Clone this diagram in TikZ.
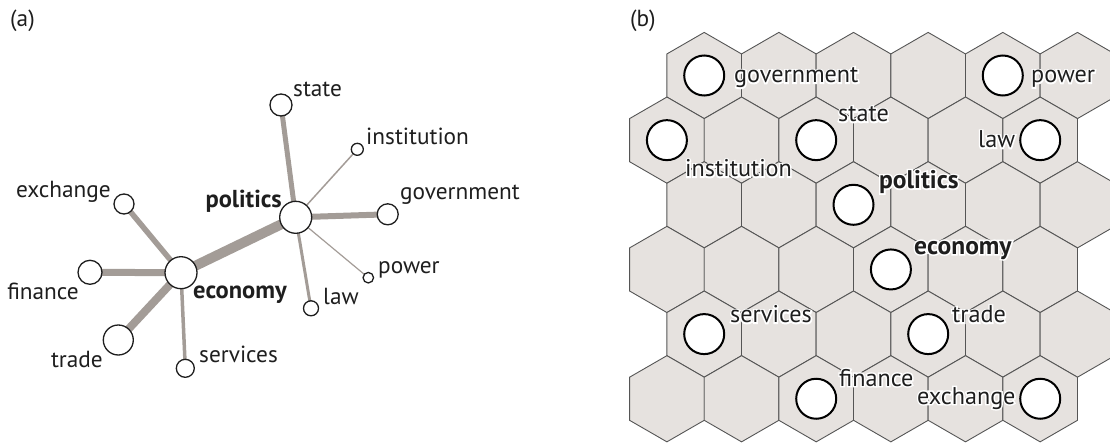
\documentclass[tikz,border=0pt]{standalone}
\usepackage{fontspec}
\setmainfont{PT Sans}
\newfontfamily\halofam{PT Sans}[FakeBold=12, BoldFeatures={FakeBold=12}]
\definecolor{edgec}{HTML}{A39C97}
\definecolor{hexfill}{HTML}{E6E2DF}
\definecolor{hexline}{HTML}{555555}
\definecolor{txt}{HTML}{1E1E1E}
\pgfdeclarelayer{bg}
\pgfsetlayers{bg,main}
\newcommand\halo[1]{\makebox[0pt][l]{\color{white}\halofam #1}#1}
\begin{document}
\begin{tikzpicture}[x=1pt,y=-1pt,
  lbl/.style={inner sep=0pt, font=\fontsize{23.3}{27}\selectfont, text=txt},
  blbl/.style={lbl, font=\fontsize{24.5}{28}\selectfont\bfseries},
  hlbl/.style={inner sep=0pt, font=\fontsize{24.2}{28}\selectfont, text=txt},
  hblbl/.style={inner sep=0pt, font=\fontsize{25.5}{29}\selectfont\bfseries, text=txt},
  vtx/.style={circle, draw=txt, fill=white, line width=1.3pt, inner sep=0pt, minimum size=#1},
  som/.style={circle, draw=black, fill=white, line width=2pt, inner sep=0pt, minimum size=40pt},
  link/.style={draw=edgec, line width=#1},
  hexcell/.style={fill=hexfill, draw=hexline, line width=0.9pt}]
\useasboundingbox (0,0) rectangle (1110,444);

% ---------- panel (a) ----------
\node[lbl, anchor=base west] (la) at (10,27) {(a)};
\node[vtx=22pt] (st) at (281,105) {};
\node[vtx=12pt] (ins) at (357.3,149.3) {};
\node[vtx=21pt] (gov) at (387.7,214.3) {};
\node[vtx=32pt] (pol) at (295.7,217.3) {};
\node[vtx=10.5pt] (pow) at (368.3,277.7) {};
\node[vtx=15pt] (law) at (311,308.3) {};
\node[vtx=32pt] (eco) at (181,272.7) {};
\node[vtx=20pt] (exc) at (124,204) {};
\node[vtx=24pt] (fin) at (90,272.3) {};
\node[vtx=30pt] (tra) at (118.3,340) {};
\node[vtx=18pt] (ser) at (185.3,368.3) {};

\begin{pgfonlayer}{bg}
\draw[link=10pt] (eco.center) -- (pol.center);
\draw[link=8pt] (eco.center) -- (tra.center);
\draw[link=7pt] (eco.center) -- (fin.center);
\draw[link=5.5pt] (eco.center) -- (exc.center);
\draw[link=3.5pt] (eco.center) -- (ser.center);
\draw[link=5pt] (pol.center) -- (st.center);
\draw[link=6pt] (pol.center) -- (gov.center);
\draw[link=3pt] (pol.center) -- (law.center);
\draw[link=1.5pt] (pol.center) -- (ins.center);
\draw[link=1.2pt] (pol.center) -- (pow.center);
\end{pgfonlayer}

\node[lbl, anchor=base west] (tst) at (293,96) {state};
\node[lbl, anchor=base west] (tins) at (366,144) {institution};
\node[lbl, anchor=base west] (tgov) at (400,199.5) {government};
\node[blbl, anchor=base east] (tpol) at (282,207.5) {politics};
\node[lbl, anchor=base west] (tpow) at (378,273) {power};
\node[lbl, anchor=base west] (tlaw) at (323,304) {law};
\node[blbl, anchor=base west] (teco) at (193,298) {economy};
\node[lbl, anchor=base east] (texc) at (111,197) {exchange};
\node[lbl, anchor=base east] (tfin) at (79,299) {finance};
\node[lbl, anchor=base east] (ttra) at (103,367) {trade};
\node[lbl, anchor=base west] (tser) at (199,362.7) {services};

% ---------- panel (b) ----------
\node[lbl, anchor=base west] (lb) at (630,26.7) {(b)};
\begin{scope}
\clip (0,0) rectangle (1110,444);
\foreach \r in {0,...,5} {
  \pgfmathsetmacro\cy{75.5+64.65*\r}
  \pgfmathsetmacro\xo{ifthenelse(mod(\r,2)==0,704.2,666.9)}
  \foreach \k in {0,...,5} {
    \pgfmathsetmacro\cx{\xo+74.65*\k}
    \draw[hexcell] (\cx,\cy) +(0,-43.1) -- +(37.33,-21.55) -- +(37.33,21.55) -- +(0,43.1) -- +(-37.33,21.55) -- +(-37.33,-21.55) -- cycle;
  }
}
\end{scope}

\node[som] (bgov) at (704.2,75.5) {};
\node[som] (bpow) at (1002.8,75.5) {};
\node[som] (bins) at (666.9,140.15) {};
\node[som] (bst) at (816.2,140.15) {};
\node[som] (blaw) at (1040.2,140.15) {};
\node[som] (bpol) at (853.5,204.8) {};
\node[som] (beco) at (890.9,269.45) {};
\node[som] (bser) at (704.2,334.1) {};
\node[som] (btra) at (928.2,334.1) {};
\node[som] (bfin) at (816.2,398.75) {};
\node[som] (bexc) at (1040.2,398.75) {};

\node[hlbl, anchor=base west] (ugov) at (734,82.7) {\halo{government}};
\node[hlbl, anchor=base west] (upow) at (1031,82.7) {\halo{power}};
\node[hlbl, anchor=base west] (ust) at (838,121.7) {\halo{state}};
\node[hlbl, anchor=base west] (ulaw) at (978,147.7) {\halo{law}};
\node[hlbl, anchor=base west] (uins) at (685,176.7) {\halo{institution}};
\node[hblbl, anchor=base west] (upol) at (879,188.3) {\halo{politics}};
\node[hblbl, anchor=base west] (ueco) at (914,254) {\halo{economy}};
\node[hlbl, anchor=base west] (user) at (730,322.7) {\halo{services}};
\node[hlbl, anchor=base west] (utra) at (952,322.7) {\halo{trade}};
\node[hlbl, anchor=base west] (ufin) at (839,386) {\halo{finance}};
\node[hlbl, anchor=base west] (uexc) at (917,404) {\halo{exchange}};
\end{tikzpicture}
\end{document}
